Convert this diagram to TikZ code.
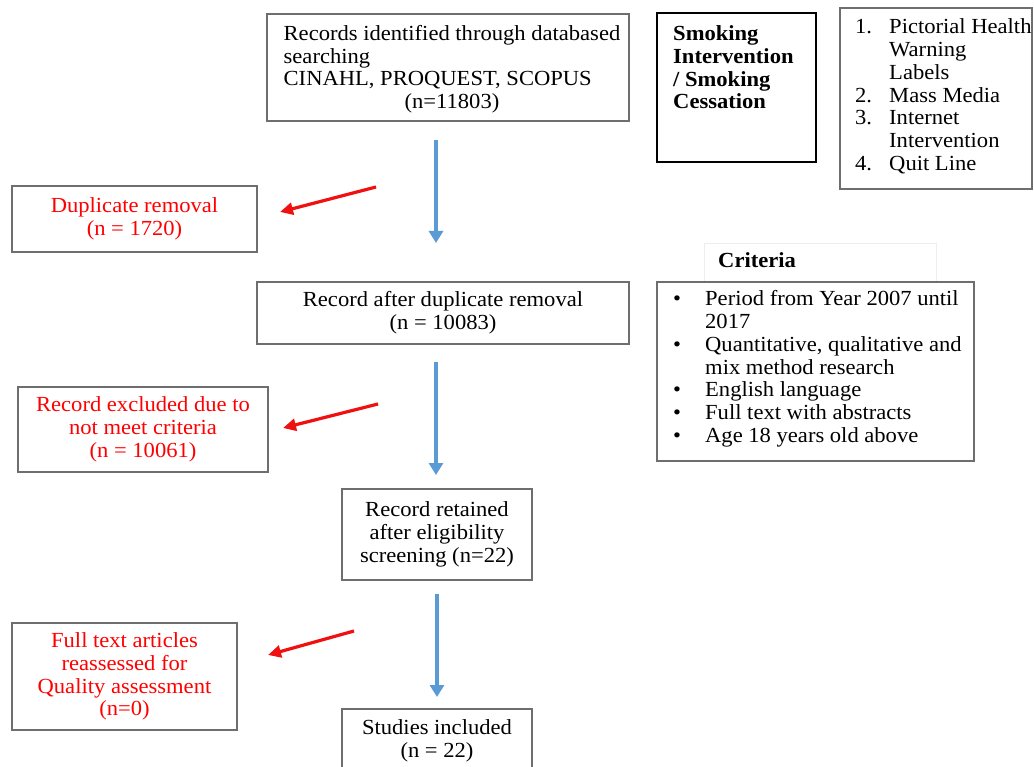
\documentclass[tikz,border=0pt]{standalone}
\usepackage{fontspec}
\setmainfont{Liberation Serif}[FakeStretch=1.05]
\usetikzlibrary{arrows.meta}
\definecolor{boxgray}{HTML}{6E6E6E}
\definecolor{faintgray}{HTML}{EEEEEE}
\definecolor{arrblue}{HTML}{5B9BD5}
\definecolor{txtred}{HTML}{FF0000}
\definecolor{arrred}{HTML}{F01010}
\begin{document}
\begin{tikzpicture}[x=1pt,y=-1pt,
  every node/.style={font=\fontsize{21.5}{22.7}\selectfont},
  box/.style={draw=boxgray, line width=1.3pt, align=center, inner sep=0pt},
  redbox/.style={box, text=txtred},
  plaintext/.style={inner sep=0pt, align=left},
  bluearrow/.style={draw=arrblue, line width=3.8pt, -{Triangle[length=12pt,width=14pt]}},
  redarrow/.style={draw=arrred, line width=3.2pt, -{Triangle[length=13pt,width=12pt]}},
]
\fill[white] (0,0) rectangle (1034,767);
\useasboundingbox (0,0) rectangle (1034,767);

% main flow boxes
\node[box, minimum width=362pt, minimum height=107pt] (b1) at (448,67.5) {};
\node[plaintext] (b1txt) at (452,70)
  {\begin{tabular}{@{}l@{}}
  Records identified through databased\\
  searching\\
  CINAHL, PROQUEST, SCOPUS\\
  \multicolumn{1}{@{}c@{}}{(n=11803)}
  \end{tabular}};
\node[box, minimum width=372pt, minimum height=62pt] (b2) at (443,313)
  {Record after duplicate removal\\(n = 10083)};
\node[box, minimum width=190pt, minimum height=91pt] (b3) at (437,534.5)
  {Record retained\\after eligibility\\screening (n=22)};
\node[box, minimum width=190pt, minimum height=63pt] (b4) at (437,740.5)
  {Studies included\\(n = 22)};

% red side boxes
\node[redbox, minimum width=245pt, minimum height=66pt] (dup) at (134.5,219)
  {Duplicate removal\\(n = 1720)};
\node[redbox, minimum width=250pt, minimum height=85pt] (exc) at (143,429.5)
  {Record excluded due to\\not meet criteria\\(n = 10061)};
\node[redbox, minimum width=225pt, minimum height=107pt] (full) at (124.5,676.5)
  {Full text articles\\reassessed for\\Quality assessment\\(n=0)};

% smoking box
\node[draw=black, line width=2pt, minimum width=159pt, minimum height=149pt, inner sep=0pt] (smk) at (736.5,87.5) {};
\node[plaintext, anchor=base west, font=\fontsize{21.5}{22.7}\selectfont\bfseries] (smktxt) at (673,109)
  {Smoking\\Intervention\\/ Smoking\\Cessation};

% list box
\node[box, minimum width=192pt, minimum height=181pt] (lst) at (936,98.5) {};
\node[plaintext, anchor=base west] (lsttxt) at (855,34)
  {\begin{tabular}[t]{@{}p{34pt}@{}l@{}}
  1. & Pictorial Health\\
     & Warning\\
     & Labels\\
  2. & Mass Media\\
  3. & Internet\\
     & Intervention\\
  4. & Quit Line
  \end{tabular}};

% criteria
\node[draw=faintgray, line width=0.8pt, minimum width=232pt, minimum height=39pt, inner sep=0pt] (crith) at (820,262.5) {};
\node[plaintext, anchor=base west, font=\fontsize{21.5}{22.7}\selectfont\bfseries] (crithtxt) at (718,268) {Criteria};
\node[box, minimum width=317pt, minimum height=179pt] (crit) at (815.5,371.5) {};
\node[plaintext, anchor=base west] (crittxt) at (668,306)
  {\begin{tabular}[t]{@{}p{37pt}@{}l@{}}
  \hspace*{5pt}\textbullet & Period from Year 2007 until\\
     & 2017\\
  \hspace*{5pt}\textbullet & Quantitative, qualitative and\\
     & mix method research\\
  \hspace*{5pt}\textbullet & English language\\
  \hspace*{5pt}\textbullet & Full text with abstracts\\
  \hspace*{5pt}\textbullet & Age 18 years old above
  \end{tabular}};

% arrow end points
\coordinate (a1s) at (436,140);
\coordinate (a1e) at (436,243);
\coordinate (a2s) at (436,362);
\coordinate (a2e) at (436,475);
\coordinate (a3s) at (437,594);
\coordinate (a3e) at (437,697);
\coordinate (r1s) at (376,187);
\coordinate (r1e) at (280,212);
\coordinate (r2s) at (378,404);
\coordinate (r2e) at (283,428);
\coordinate (r3s) at (354,631);
\coordinate (r3e) at (268,655);

\draw[bluearrow] (a1s) -- (a1e);
\draw[bluearrow] (a2s) -- (a2e);
\draw[bluearrow] (a3s) -- (a3e);
\draw[redarrow] (r1s) -- (r1e);
\draw[redarrow] (r2s) -- (r2e);
\draw[redarrow] (r3s) -- (r3e);
\end{tikzpicture}
\end{document}
